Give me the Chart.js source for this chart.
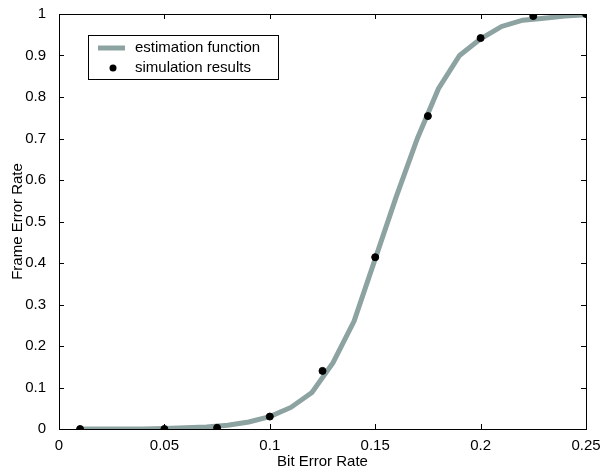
<!DOCTYPE html>
<html>
<head>
<meta charset="utf-8">
<script src="https://cdn.jsdelivr.net/npm/chart.js@4"></script>
<style>
  html, body { margin: 0; padding: 0; background: #fff; }
  #wrap { width: 611px; height: 472px; }
</style>
</head>
<body>
<div id="wrap"><canvas id="berChart" width="611" height="472"></canvas></div>
<script>
// estimation function, sampled every 0.01
var estX = [0.01, 0.02, 0.03, 0.04, 0.05, 0.06, 0.07, 0.08, 0.09, 0.10, 0.11, 0.12, 0.13,
            0.14, 0.15, 0.16, 0.17, 0.18, 0.19, 0.20, 0.21, 0.22, 0.23, 0.24, 0.25];
var estY = [0, 0, 0, 0, 0.001, 0.003, 0.005, 0.009, 0.017, 0.03, 0.052, 0.088, 0.16,
            0.26, 0.41, 0.56, 0.70, 0.82, 0.90, 0.94, 0.97, 0.985, 0.99, 0.995, 0.998];

// simulation results
var simX = [0.01, 0.05, 0.075, 0.1, 0.125, 0.15, 0.175, 0.2, 0.225, 0.25];
var simY = [0, 0, 0.003, 0.03, 0.14, 0.414, 0.754, 0.942, 0.995, 1.0];

var legendLabels = ['estimation function', 'simulation results'];

var lineColor = '#8da3a1';
var fontFamily = 'Arial, "Liberation Sans", Helvetica, sans-serif';
var fontSize = 15;

function toPoints(xs, ys) {
    return xs.map(function(x, i) { return { x: x, y: ys[i] }; });
}

// matlab style labels: 0, 0.05, 0.1, 1
function shortNum(v) {
    return String(Number(v.toFixed(3)));
}

// box round the plot, ticks pointing inward on all four sides, legend inside
var matlabFrame = {
    id: 'matlabFrame',
    afterDraw: function(chart) {
        var ctx = chart.ctx;
        var a = chart.chartArea;
        var xs = chart.scales.x, ys = chart.scales.y;
        var tl = 5;
        ctx.save();
        ctx.strokeStyle = '#000';
        ctx.lineWidth = 1;
        ctx.strokeRect(a.left + 0.5, a.top + 0.5, a.right - a.left, a.bottom - a.top);
        ctx.beginPath();
        xs.ticks.forEach(function(t, i) {
            var px = Math.round(xs.getPixelForTick(i)) + 0.5;
            ctx.moveTo(px, a.bottom); ctx.lineTo(px, a.bottom - tl);
            ctx.moveTo(px, a.top); ctx.lineTo(px, a.top + tl);
        });
        ys.ticks.forEach(function(t, i) {
            var py = Math.round(ys.getPixelForTick(i)) + 0.5;
            ctx.moveTo(a.left, py); ctx.lineTo(a.left + tl, py);
            ctx.moveTo(a.right, py); ctx.lineTo(a.right - tl, py);
        });
        ctx.stroke();

        // legend
        var bx = a.left + 29, by = a.top + 21, bw = 190, bh = 44;
        ctx.fillStyle = '#fff';
        ctx.fillRect(bx, by, bw, bh);
        ctx.strokeRect(bx + 0.5, by + 0.5, bw, bh);
        ctx.strokeStyle = lineColor;
        ctx.lineWidth = 5;
        ctx.beginPath();
        ctx.moveTo(bx + 10, by + 13); ctx.lineTo(bx + 37, by + 13);
        ctx.stroke();
        ctx.fillStyle = '#000';
        ctx.beginPath();
        ctx.arc(bx + 25, by + 33, 3.5, 0, Math.PI * 2);
        ctx.fill();
        ctx.font = fontSize + 'px ' + fontFamily;
        ctx.textBaseline = 'middle';
        ctx.textAlign = 'left';
        ctx.fillText(legendLabels[0], bx + 47, by + 13);
        ctx.fillText(legendLabels[1], bx + 47, by + 33);
        ctx.restore();
    }
};

var ctx = document.getElementById('berChart').getContext('2d');
var berChart = new Chart(ctx, {
    type: 'scatter',
    data: {
        datasets: [{
            label: legendLabels[1],
            data: toPoints(simX, simY),
            backgroundColor: '#000',
            borderColor: '#000',
            pointRadius: 3.5,
            pointHoverRadius: 3.5,
            order: 0
        }, {
            type: 'line',
            label: legendLabels[0],
            data: toPoints(estX, estY),
            borderColor: lineColor,
            borderWidth: 5,
            pointRadius: 0,
            fill: false,
            tension: 0,
            order: 1
        }]
    },
    options: {
        responsive: false,
        animation: false,
        layout: { padding: { top: 14, right: 25, left: 0, bottom: 0 } },
        plugins: {
            legend: { display: false },
            tooltip: { enabled: false }
        },
        scales: {
            x: {
                type: 'linear',
                min: 0, max: 0.25,
                ticks: { stepSize: 0.05, color: '#000', padding: 0,
                         callback: shortNum,
                         font: { family: fontFamily, size: fontSize } },
                grid: { display: false },
                border: { display: false },
                title: { display: true, text: 'Bit Error Rate', color: '#000',
                         padding: { top: 0, bottom: 1 },
                         font: { family: fontFamily, size: fontSize } },
                afterFit: function(s) { s.height = 43; }
            },
            y: {
                min: 0, max: 1,
                ticks: { stepSize: 0.1, color: '#000', padding: 5,
                         callback: shortNum,
                         font: { family: fontFamily, size: fontSize } },
                grid: { display: false },
                border: { display: false },
                title: { display: true, text: 'Frame Error Rate', color: '#000',
                         padding: { top: 9, bottom: 0 },
                         font: { family: fontFamily, size: fontSize } },
                afterFit: function(s) { s.width = 59; }
            }
        }
    },
    plugins: [matlabFrame]
});
</script>
</body>
</html>
